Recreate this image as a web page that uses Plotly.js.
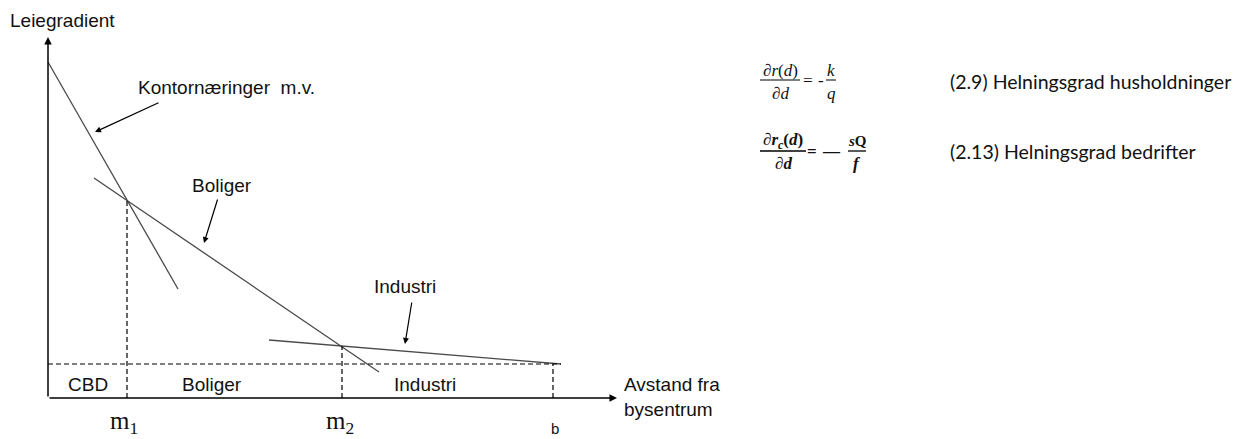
<!DOCTYPE html>
<html>
<head>
<meta charset="utf-8">
<script src="https://cdn.plot.ly/plotly-3.0.1.min.js"></script>
<style>html,body{margin:0;padding:0;background:#fff;}#chart{width:1238px;height:439px;}</style>
</head>
<body>
<div id="chart"></div>
<script>
// ---- Data (diagram units: distance from centre, rent level) ----
const kontorX = [0, 130];
const kontorY = [336, 109];
const boligerX = [46, 331];
const boligerY = [220, 26];
const industriX = [221, 513];
const industriY = [58, 34];
const baseRent = 34;
const boundaryM1 = 79;
const boundaryM2 = 294;
const boundaryB = 505;
const zoneLabels = ['CBD', 'Boliger', 'Industri'];
const curveLabels = ['Kontornæringer  m.v.', 'Boliger', 'Industri'];
const boundaryLabels = ['m<sub>1</sub>', 'm<sub>2</sub>', 'b'];
const axisMax = [569, 361];

function lineAt(xs, ys, x) {
  return ys[0] + (ys[1] - ys[0]) * (x - xs[0]) / (xs[1] - xs[0]);
}
const yM1 = lineAt(kontorX, kontorY, boundaryM1);
const yM2 = lineAt(industriX, industriY, boundaryM2);

// pixel helpers for placing annotations (plot area = whole page, 1 unit = 1 px)
const PX = x => x - 48;
const PY = y => 398 - y;

const grey = '#4a4a4a';
const sans = 'Liberation Sans, Arial, sans-serif';
const serif = 'Liberation Serif, Times New Roman, serif';

const traces = [
  {x: kontorX, y: kontorY, mode: 'lines', line: {color: grey, width: 1.3}},
  {x: boligerX, y: boligerY, mode: 'lines', line: {color: grey, width: 1.3}},
  {x: industriX, y: industriY, mode: 'lines', line: {color: grey, width: 1.3}},
  {x: [0, industriX[1]], y: [baseRent, baseRent], mode: 'lines', line: {color: '#000', width: 1.2, dash: '5px,3px'}},
  {x: [boundaryM1, boundaryM1], y: [0, yM1], mode: 'lines', line: {color: '#000', width: 1.2, dash: '5px,3px'}},
  {x: [boundaryM2, boundaryM2], y: [0, yM2], mode: 'lines', line: {color: '#000', width: 1.2, dash: '5px,3px'}},
  {x: [boundaryB, boundaryB], y: [0, baseRent], mode: 'lines', line: {color: '#000', width: 1.2, dash: '5px,3px'}}
];

function txt(x, y, text, size, family, extra) {
  return Object.assign({x: x, y: y, xref: 'x', yref: 'y', text: text, showarrow: false,
    font: {family: family || sans, size: size || 19, color: '#111'}}, extra || {});
}
function arrow(x, y, ax, ay, w) {
  return {x: x, y: y, ax: ax, ay: ay, xref: 'x', yref: 'y', axref: 'x', ayref: 'y', text: '',
    showarrow: true, arrowhead: 2, arrowsize: 1, arrowwidth: w || 1.2, arrowcolor: '#000'};
}

const annotations = [
  // axes
  arrow(0, axisMax[1], 0, 0, 1.5),
  arrow(axisMax[0], 0, 0, 0, 1.5),
  txt(PX(62), PY(20), 'Leiegradient'),
  txt(PX(622), PY(397), 'Avstand fra<br>bysentrum', 19, sans, {xanchor: 'left', align: 'left'}),
  // curve labels
  txt(PX(226), PY(87), curveLabels[0]),
  txt(PX(222), PY(185), curveLabels[1]),
  txt(PX(405), PY(286), curveLabels[2]),
  arrow(PX(95), PY(132), PX(160), PY(102)),
  arrow(PX(204), PY(243), PX(218), PY(198)),
  arrow(PX(405), PY(344), PX(412), PY(301)),
  // zones
  txt(PX(88), PY(384), zoneLabels[0]),
  txt(PX(212), PY(384), zoneLabels[1]),
  txt(PX(425), PY(384), zoneLabels[2]),
  // boundaries
  txt(boundaryM1 - 3, PY(422), boundaryLabels[0], 25, serif),
  txt(boundaryM2 - 2, PY(422), boundaryLabels[1], 25, serif),
  txt(boundaryB + 2, PY(428), boundaryLabels[2], 15, sans),
  // formulas
  txt(PX(780), PY(70), '<i>∂r</i>(<i>d</i>)', 17, serif),
  txt(PX(780), PY(93), '<i>∂d</i>', 17, serif),
  txt(PX(808), PY(80), '=', 17, serif),
  txt(PX(821), PY(80), '-', 17, serif),
  txt(PX(831), PY(70), '<i>k</i>', 17, serif),
  txt(PX(831), PY(93), '<i>q</i>', 17, serif),
  txt(PX(783), PY(141), '<b><i>∂r<sub>c</sub></i>(<i>d</i>)</b>', 17, serif),
  txt(PX(783), PY(163), '<b><i>∂d</i></b>', 17, serif),
  txt(PX(812), PY(151), '<b>=</b>', 17, serif),
  txt(PX(831), PY(151), '<b>—</b>', 17, serif),
  txt(PX(857), PY(141), '<b><i>s</i>Q</b>', 15, serif),
  txt(PX(857), PY(163), '<b><i>f</i></b>', 17, serif),
  // right texts
  txt(PX(948), PY(81), '(2.9) Helningsgrad husholdninger', 19.5, 'Lato, Carlito, sans-serif', {xanchor: 'left'}),
  txt(PX(948), PY(151), '(2.13) Helningsgrad bedrifter', 19.5, 'Lato, Carlito, sans-serif', {xanchor: 'left'})
];

const shapes = [
  {type: 'line', xref: 'x', yref: 'y', x0: PX(760), x1: PX(800), y0: PY(80), y1: PY(80), line: {color: '#000', width: 1}},
  {type: 'line', xref: 'x', yref: 'y', x0: PX(826), x1: PX(836), y0: PY(80), y1: PY(80), line: {color: '#000', width: 1}},
  {type: 'line', xref: 'x', yref: 'y', x0: PX(760), x1: PX(806), y0: PY(151), y1: PY(151), line: {color: '#000', width: 1.3}},
  {type: 'line', xref: 'x', yref: 'y', x0: PX(848), x1: PX(866), y0: PY(151), y1: PY(151), line: {color: '#000', width: 1.3}}
];

const layout = {
  width: 1238, height: 439,
  margin: {l: 0, r: 0, t: 0, b: 0},
  paper_bgcolor: '#fff', plot_bgcolor: '#fff',
  showlegend: false, hovermode: false,
  xaxis: {range: [-48, 1190], visible: false, fixedrange: true},
  yaxis: {range: [-41, 398], visible: false, fixedrange: true},
  annotations: annotations,
  shapes: shapes
};

Plotly.newPlot('chart', traces, layout, {displayModeBar: false, staticPlot: true});
</script>
</body>
</html>
